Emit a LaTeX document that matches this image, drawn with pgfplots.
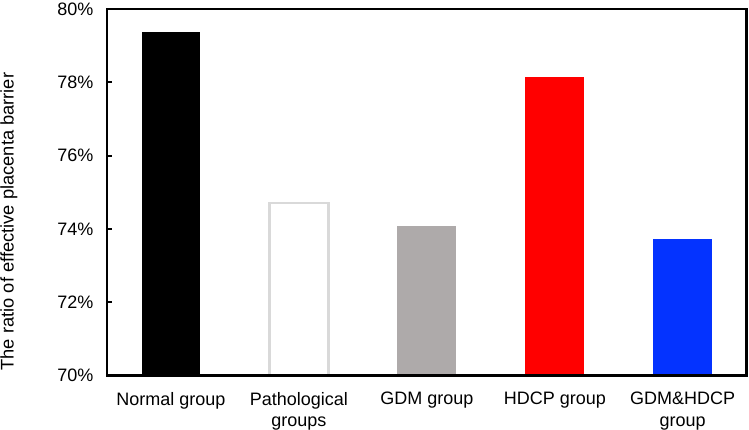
\documentclass[border=0pt]{standalone}
\usepackage{pgfplots}
\pgfplotsset{compat=1.18}
\usepackage{fontspec}
\setmainfont{Liberation Sans}
\definecolor{cgray}{RGB}{174,170,170}
\definecolor{cedge}{RGB}{217,217,217}
\definecolor{cred}{RGB}{255,0,0}
\definecolor{cblue}{RGB}{4,51,255}
\begin{document}
\begin{tikzpicture}
\useasboundingbox (-107pt,-54.5pt) rectangle (642pt,375.5pt);
\begin{axis}[
  at={(0,0)}, anchor=south west,
  scale only axis, width=639.7pt, height=366.5pt,
  xmin=-0.5, xmax=4.5, ymin=70, ymax=80,
  ytick={70,72,74,76,78,80},
  yticklabel={\pgfmathprintnumber{\tick}\%},
  /pgf/number format/assume math mode=true,
  xtick={0,1,2,3,4},
  xticklabels={Normal group,{Pathological\\groups},GDM group,HDCP group,{GDM\&HDCP\\group}},
  xticklabel style={align=center, font=\fontsize{18}{21.7}\selectfont, yshift=-8pt},
  yticklabel style={font=\fontsize{18}{21.7}\selectfont, xshift=-10pt},
  x tick style={draw=none},
  ytick pos=left,
  tick align=inside,
  major tick length=5pt,
  y tick style={line width=2pt, black},
  axis line style={line width=2.5pt},
  ylabel={The ratio of effective placenta barrier},
  every axis y label/.style={at={(rel axis cs:-0.1532,0.42)}, rotate=90, anchor=center, font=\fontsize{18.3}{21.7}\selectfont},
  ybar, bar width=0.46, bar shift=0pt,
  axis on top,
]
\addplot[fill=black, draw=none] coordinates {(0,79.36)};
\addplot[fill=white, draw=cedge, line width=2.5pt] coordinates {(1,74.70)};
\addplot[fill=cgray, draw=none] coordinates {(2,74.09)};
\addplot[fill=cred, draw=none] coordinates {(3,78.14)};
\addplot[fill=cblue, draw=none] coordinates {(4,73.72)};
\end{axis}
\end{tikzpicture}
\end{document}
